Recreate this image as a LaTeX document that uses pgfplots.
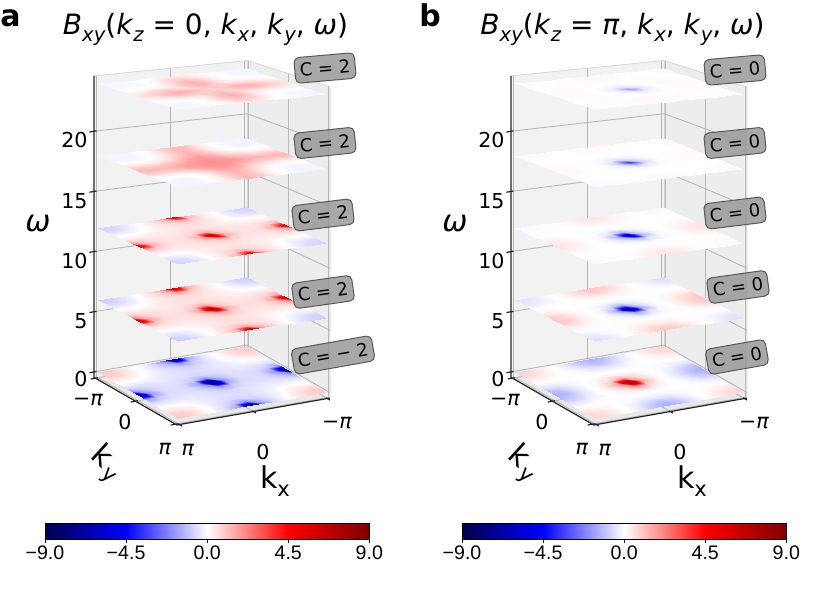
\documentclass[border=0pt]{standalone}
\usepackage{fontspec}
\setmainfont{DejaVu Sans}
\newfontfamily\lib{Liberation Sans}
\usepackage{pgfplots}
\usepackage{pgfplotstable}
\pgfplotsset{compat=1.18}
\pgfplotsset{colormap={seismic}{rgb=(0,0,0.3) rgb=(0,0,1) rgb=(1,1,1) rgb=(1,0,0) rgb=(0.5,0,0)}}

% ---------- panel a : k_z = 0 ----------
\pgfplotstableread[row sep=\\]{c\\
1.0\\0.9\\0.45\\-0.05\\-0.6\\-1.8\\-8\\-1.8\\-0.6\\-0.05\\0.45\\0.9\\1.0\\
0.9\\0.8\\0.38\\-0.08\\-0.5\\-1.0\\-1.8\\-1.0\\-0.5\\-0.08\\0.38\\0.8\\0.9\\
0.45\\0.38\\0.22\\-0.15\\-0.43\\-0.62\\-0.73\\-0.62\\-0.43\\-0.15\\0.22\\0.38\\0.45\\
-0.05\\-0.08\\-0.15\\-0.3\\-0.4\\-0.56\\-0.6\\-0.56\\-0.4\\-0.3\\-0.15\\-0.08\\-0.05\\
-0.6\\-0.5\\-0.43\\-0.4\\-0.5\\-0.62\\-0.73\\-0.62\\-0.5\\-0.4\\-0.43\\-0.5\\-0.6\\
-1.8\\-1.0\\-0.62\\-0.56\\-0.62\\-1.0\\-1.8\\-1.0\\-0.62\\-0.56\\-0.62\\-1.0\\-1.8\\
-8\\-1.8\\-0.73\\-0.6\\-0.73\\-1.8\\-9\\-1.8\\-0.73\\-0.6\\-0.73\\-1.8\\-8\\
-1.8\\-1.0\\-0.62\\-0.56\\-0.62\\-1.0\\-1.8\\-1.0\\-0.62\\-0.56\\-0.62\\-1.0\\-1.8\\
-0.6\\-0.5\\-0.43\\-0.4\\-0.5\\-0.62\\-0.73\\-0.62\\-0.5\\-0.4\\-0.43\\-0.5\\-0.6\\
-0.05\\-0.08\\-0.15\\-0.3\\-0.4\\-0.56\\-0.6\\-0.56\\-0.4\\-0.3\\-0.15\\-0.08\\-0.05\\
0.45\\0.38\\0.22\\-0.15\\-0.43\\-0.62\\-0.73\\-0.62\\-0.43\\-0.15\\0.22\\0.38\\0.45\\
0.9\\0.8\\0.38\\-0.08\\-0.5\\-1.0\\-1.8\\-1.0\\-0.5\\-0.08\\0.38\\0.8\\0.9\\
1.0\\0.9\\0.45\\-0.05\\-0.6\\-1.8\\-8\\-1.8\\-0.6\\-0.05\\0.45\\0.9\\1.0\\
}\Aa
\pgfplotstableread[row sep=\\]{c\\
-0.9\\-0.8\\-0.4\\0.05\\0.55\\1.6\\6.8\\1.6\\0.55\\0.05\\-0.4\\-0.8\\-0.9\\
-0.8\\-0.7\\-0.35\\0.07\\0.45\\0.9\\1.6\\0.9\\0.45\\0.07\\-0.35\\-0.7\\-0.8\\
-0.4\\-0.35\\-0.2\\0.13\\0.4\\0.55\\0.65\\0.55\\0.4\\0.13\\-0.2\\-0.35\\-0.4\\
0.05\\0.07\\0.13\\0.27\\0.36\\0.5\\0.55\\0.5\\0.36\\0.27\\0.13\\0.07\\0.05\\
0.55\\0.45\\0.4\\0.36\\0.45\\0.55\\0.65\\0.55\\0.45\\0.36\\0.4\\0.45\\0.55\\
1.6\\0.9\\0.55\\0.5\\0.55\\0.9\\1.6\\0.9\\0.55\\0.5\\0.55\\0.9\\1.6\\
6.8\\1.6\\0.65\\0.55\\0.65\\1.6\\7.6\\1.6\\0.65\\0.55\\0.65\\1.6\\6.8\\
1.6\\0.9\\0.55\\0.5\\0.55\\0.9\\1.6\\0.9\\0.55\\0.5\\0.55\\0.9\\1.6\\
0.55\\0.45\\0.4\\0.36\\0.45\\0.55\\0.65\\0.55\\0.45\\0.36\\0.4\\0.45\\0.55\\
0.05\\0.07\\0.13\\0.27\\0.36\\0.5\\0.55\\0.5\\0.36\\0.27\\0.13\\0.07\\0.05\\
-0.4\\-0.35\\-0.2\\0.13\\0.4\\0.55\\0.65\\0.55\\0.4\\0.13\\-0.2\\-0.35\\-0.4\\
-0.8\\-0.7\\-0.35\\0.07\\0.45\\0.9\\1.6\\0.9\\0.45\\0.07\\-0.35\\-0.7\\-0.8\\
-0.9\\-0.8\\-0.4\\0.05\\0.55\\1.6\\6.8\\1.6\\0.55\\0.05\\-0.4\\-0.8\\-0.9\\
}\Ab
\pgfplotstableread[row sep=\\]{c\\
-0.8\\-0.75\\-0.38\\0.05\\0.5\\1.5\\6.0\\1.5\\0.5\\0.05\\-0.38\\-0.75\\-0.8\\
-0.75\\-0.65\\-0.32\\0.07\\0.42\\0.85\\1.5\\0.85\\0.42\\0.07\\-0.32\\-0.65\\-0.75\\
-0.38\\-0.32\\-0.18\\0.13\\0.37\\0.52\\0.62\\0.52\\0.37\\0.13\\-0.18\\-0.32\\-0.38\\
0.05\\0.07\\0.13\\0.25\\0.34\\0.48\\0.52\\0.48\\0.34\\0.25\\0.13\\0.07\\0.05\\
0.5\\0.42\\0.37\\0.34\\0.42\\0.52\\0.62\\0.52\\0.42\\0.34\\0.37\\0.42\\0.5\\
1.5\\0.85\\0.52\\0.48\\0.52\\0.85\\1.5\\0.85\\0.52\\0.48\\0.52\\0.85\\1.5\\
6.0\\1.5\\0.62\\0.52\\0.62\\1.5\\6.8\\1.5\\0.62\\0.52\\0.62\\1.5\\6.0\\
1.5\\0.85\\0.52\\0.48\\0.52\\0.85\\1.5\\0.85\\0.52\\0.48\\0.52\\0.85\\1.5\\
0.5\\0.42\\0.37\\0.34\\0.42\\0.52\\0.62\\0.52\\0.42\\0.34\\0.37\\0.42\\0.5\\
0.05\\0.07\\0.13\\0.25\\0.34\\0.48\\0.52\\0.48\\0.34\\0.25\\0.13\\0.07\\0.05\\
-0.38\\-0.32\\-0.18\\0.13\\0.37\\0.52\\0.62\\0.52\\0.37\\0.13\\-0.18\\-0.32\\-0.38\\
-0.75\\-0.65\\-0.32\\0.07\\0.42\\0.85\\1.5\\0.85\\0.42\\0.07\\-0.32\\-0.65\\-0.75\\
-0.8\\-0.75\\-0.38\\0.05\\0.5\\1.5\\6.0\\1.5\\0.5\\0.05\\-0.38\\-0.75\\-0.8\\
}\Ac
\pgfplotstableread[row sep=\\]{c\\
-0.2\\-0.2\\-0.2\\-0.05\\0.3\\0.9\\1.3\\0.9\\0.3\\-0.05\\-0.2\\-0.2\\-0.2\\
-0.2\\-0.2\\-0.2\\-0.05\\0.3\\0.9\\1.3\\0.9\\0.3\\-0.05\\-0.2\\-0.2\\-0.2\\
-0.2\\-0.2\\-0.2\\-0.05\\0.3\\0.9\\1.3\\0.9\\0.3\\-0.05\\-0.2\\-0.2\\-0.2\\
-0.05\\-0.05\\-0.05\\0.1\\0.5\\1.1\\1.45\\1.1\\0.5\\0.1\\-0.05\\-0.05\\-0.05\\
0.3\\0.3\\0.3\\0.5\\0.85\\1.45\\1.8\\1.45\\0.85\\0.5\\0.3\\0.3\\0.3\\
0.9\\0.9\\0.9\\1.1\\1.45\\1.8\\1.9\\1.8\\1.45\\1.1\\0.9\\0.9\\0.9\\
1.3\\1.3\\1.3\\1.45\\1.8\\1.9\\2.0\\1.9\\1.8\\1.45\\1.3\\1.3\\1.3\\
0.9\\0.9\\0.9\\1.1\\1.45\\1.8\\1.9\\1.8\\1.45\\1.1\\0.9\\0.9\\0.9\\
0.3\\0.3\\0.3\\0.5\\0.85\\1.45\\1.8\\1.45\\0.85\\0.5\\0.3\\0.3\\0.3\\
-0.05\\-0.05\\-0.05\\0.1\\0.5\\1.1\\1.45\\1.1\\0.5\\0.1\\-0.05\\-0.05\\-0.05\\
-0.2\\-0.2\\-0.2\\-0.05\\0.3\\0.9\\1.3\\0.9\\0.3\\-0.05\\-0.2\\-0.2\\-0.2\\
-0.2\\-0.2\\-0.2\\-0.05\\0.3\\0.9\\1.3\\0.9\\0.3\\-0.05\\-0.2\\-0.2\\-0.2\\
-0.2\\-0.2\\-0.2\\-0.05\\0.3\\0.9\\1.3\\0.9\\0.3\\-0.05\\-0.2\\-0.2\\-0.2\\
}\Ad
\pgfplotstableread[row sep=\\]{c\\
-0.15\\-0.15\\-0.15\\-0.09\\0.06\\0.3\\0.45\\0.3\\0.06\\-0.09\\-0.15\\-0.15\\-0.15\\
-0.15\\-0.15\\-0.15\\-0.06\\0.17\\0.53\\0.75\\0.53\\0.17\\-0.06\\-0.15\\-0.15\\-0.15\\
-0.15\\-0.15\\-0.15\\-0.02\\0.3\\0.83\\1.15\\0.83\\0.3\\-0.02\\-0.15\\-0.15\\-0.15\\
-0.09\\-0.06\\-0.02\\0.01\\0.41\\1.05\\1.45\\1.05\\0.41\\0.01\\-0.02\\-0.06\\-0.09\\
0.06\\0.17\\0.3\\0.41\\0.38\\0.98\\1.35\\0.98\\0.38\\0.41\\0.3\\0.17\\0.06\\
0.3\\0.53\\0.83\\1.05\\0.98\\0.75\\1.05\\0.75\\0.98\\1.05\\0.83\\0.53\\0.3\\
0.45\\0.75\\1.15\\1.45\\1.35\\1.05\\0.75\\1.05\\1.35\\1.45\\1.15\\0.75\\0.45\\
0.3\\0.53\\0.83\\1.05\\0.98\\0.75\\1.05\\0.75\\0.98\\1.05\\0.83\\0.53\\0.3\\
0.06\\0.17\\0.3\\0.41\\0.38\\0.98\\1.35\\0.98\\0.38\\0.41\\0.3\\0.17\\0.06\\
-0.09\\-0.06\\-0.02\\0.01\\0.41\\1.05\\1.45\\1.05\\0.41\\0.01\\-0.02\\-0.06\\-0.09\\
-0.15\\-0.15\\-0.15\\-0.02\\0.3\\0.83\\1.15\\0.83\\0.3\\-0.02\\-0.15\\-0.15\\-0.15\\
-0.15\\-0.15\\-0.15\\-0.06\\0.17\\0.53\\0.75\\0.53\\0.17\\-0.06\\-0.15\\-0.15\\-0.15\\
-0.15\\-0.15\\-0.15\\-0.09\\0.06\\0.3\\0.45\\0.3\\0.06\\-0.09\\-0.15\\-0.15\\-0.15\\
}\Ae
% ---------- panel b : k_z = pi ----------
\pgfplotstableread[row sep=\\]{c\\
0.8\\0.7\\0.35\\-0.05\\-0.5\\-1.2\\-1.5\\-1.2\\-0.5\\-0.05\\0.35\\0.7\\0.8\\
0.7\\0.55\\0.25\\-0.05\\-0.4\\-0.9\\-1.2\\-0.9\\-0.4\\-0.05\\0.25\\0.55\\0.7\\
0.35\\0.25\\0.1\\0\\-0.15\\-0.4\\-0.5\\-0.4\\-0.15\\0\\0.1\\0.25\\0.35\\
-0.05\\-0.05\\0\\0\\-0.05\\-0.05\\-0.1\\-0.05\\-0.05\\0\\0\\-0.05\\-0.05\\
-0.5\\-0.4\\-0.15\\-0.05\\0.05\\0.2\\0.3\\0.2\\0.05\\-0.05\\-0.15\\-0.4\\-0.5\\
-1.2\\-0.9\\-0.4\\-0.05\\0.2\\0.7\\1.6\\0.7\\0.2\\-0.05\\-0.4\\-0.9\\-1.2\\
-1.5\\-1.2\\-0.5\\-0.1\\0.3\\1.6\\8.5\\1.6\\0.3\\-0.1\\-0.5\\-1.2\\-1.5\\
-1.2\\-0.9\\-0.4\\-0.05\\0.2\\0.7\\1.6\\0.7\\0.2\\-0.05\\-0.4\\-0.9\\-1.2\\
-0.5\\-0.4\\-0.15\\-0.05\\0.05\\0.2\\0.3\\0.2\\0.05\\-0.05\\-0.15\\-0.4\\-0.5\\
-0.05\\-0.05\\0\\0\\-0.05\\-0.05\\-0.1\\-0.05\\-0.05\\0\\0\\-0.05\\-0.05\\
0.35\\0.25\\0.1\\0\\-0.15\\-0.4\\-0.5\\-0.4\\-0.15\\0\\0.1\\0.25\\0.35\\
0.7\\0.55\\0.25\\-0.05\\-0.4\\-0.9\\-1.2\\-0.9\\-0.4\\-0.05\\0.25\\0.55\\0.7\\
0.8\\0.7\\0.35\\-0.05\\-0.5\\-1.2\\-1.5\\-1.2\\-0.5\\-0.05\\0.35\\0.7\\0.8\\
}\Ba
\pgfplotstableread[row sep=\\]{c\\
-0.55\\-0.5\\-0.25\\0.05\\0.35\\0.85\\1.05\\0.85\\0.35\\0.05\\-0.25\\-0.5\\-0.55\\
-0.5\\-0.4\\-0.18\\0.05\\0.28\\0.63\\0.85\\0.63\\0.28\\0.05\\-0.18\\-0.4\\-0.5\\
-0.25\\-0.18\\-0.07\\0\\0.1\\0.28\\0.35\\0.28\\0.1\\0\\-0.07\\-0.18\\-0.25\\
0.05\\0.05\\0\\0\\0.03\\0.03\\0.07\\0.03\\0.03\\0\\0\\0.05\\0.05\\
0.35\\0.28\\0.1\\0.03\\-0.05\\-0.15\\-0.25\\-0.15\\-0.05\\0.03\\0.1\\0.28\\0.35\\
0.85\\0.63\\0.28\\0.03\\-0.15\\-0.6\\-1.5\\-0.6\\-0.15\\0.03\\0.28\\0.63\\0.85\\
1.05\\0.85\\0.35\\0.07\\-0.25\\-1.5\\-7.5\\-1.5\\-0.25\\0.07\\0.35\\0.85\\1.05\\
0.85\\0.63\\0.28\\0.03\\-0.15\\-0.6\\-1.5\\-0.6\\-0.15\\0.03\\0.28\\0.63\\0.85\\
0.35\\0.28\\0.1\\0.03\\-0.05\\-0.15\\-0.25\\-0.15\\-0.05\\0.03\\0.1\\0.28\\0.35\\
0.05\\0.05\\0\\0\\0.03\\0.03\\0.07\\0.03\\0.03\\0\\0\\0.05\\0.05\\
-0.25\\-0.18\\-0.07\\0\\0.1\\0.28\\0.35\\0.28\\0.1\\0\\-0.07\\-0.18\\-0.25\\
-0.5\\-0.4\\-0.18\\0.05\\0.28\\0.63\\0.85\\0.63\\0.28\\0.05\\-0.18\\-0.4\\-0.5\\
-0.55\\-0.5\\-0.25\\0.05\\0.35\\0.85\\1.05\\0.85\\0.35\\0.05\\-0.25\\-0.5\\-0.55\\
}\Bb
\pgfplotstableread[row sep=\\]{c\\
-0.15\\-0.1\\-0.05\\0.03\\0.18\\0.4\\0.5\\0.4\\0.18\\0.03\\-0.05\\-0.1\\-0.15\\
-0.1\\-0.1\\-0.05\\0.03\\0.15\\0.32\\0.4\\0.32\\0.15\\0.03\\-0.05\\-0.1\\-0.1\\
-0.05\\-0.05\\0\\0\\0.05\\0.15\\0.18\\0.15\\0.05\\0\\0\\-0.05\\-0.05\\
0.03\\0.03\\0\\0\\0\\0\\0.03\\0\\0\\0\\0\\0.03\\0.03\\
0.18\\0.15\\0.05\\0\\-0.03\\-0.12\\-0.2\\-0.12\\-0.03\\0\\0.05\\0.15\\0.18\\
0.4\\0.32\\0.15\\0\\-0.12\\-0.5\\-1.3\\-0.5\\-0.12\\0\\0.15\\0.32\\0.4\\
0.5\\0.4\\0.18\\0.03\\-0.2\\-1.3\\-6.5\\-1.3\\-0.2\\0.03\\0.18\\0.4\\0.5\\
0.4\\0.32\\0.15\\0\\-0.12\\-0.5\\-1.3\\-0.5\\-0.12\\0\\0.15\\0.32\\0.4\\
0.18\\0.15\\0.05\\0\\-0.03\\-0.12\\-0.2\\-0.12\\-0.03\\0\\0.05\\0.15\\0.18\\
0.03\\0.03\\0\\0\\0\\0\\0.03\\0\\0\\0\\0\\0.03\\0.03\\
-0.05\\-0.05\\0\\0\\0.05\\0.15\\0.18\\0.15\\0.05\\0\\0\\-0.05\\-0.05\\
-0.1\\-0.1\\-0.05\\0.03\\0.15\\0.32\\0.4\\0.32\\0.15\\0.03\\-0.05\\-0.1\\-0.1\\
-0.15\\-0.1\\-0.05\\0.03\\0.18\\0.4\\0.5\\0.4\\0.18\\0.03\\-0.05\\-0.1\\-0.15\\
}\Bc
\pgfplotstableread[row sep=\\]{c\\
-0.1\\-0.1\\-0.05\\0\\0.05\\0.1\\0.15\\0.1\\0.05\\0\\-0.05\\-0.1\\-0.1\\
-0.1\\-0.1\\-0.05\\0\\0.05\\0.1\\0.1\\0.1\\0.05\\0\\-0.05\\-0.1\\-0.1\\
-0.05\\-0.05\\0\\0\\0\\0.05\\0.05\\0.05\\0\\0\\0\\-0.05\\-0.05\\
0\\0\\0\\0\\0\\0\\0\\0\\0\\0\\0\\0\\0\\
0.05\\0.05\\0\\0\\-0.03\\-0.08\\-0.12\\-0.08\\-0.03\\0\\0\\0.05\\0.05\\
0.1\\0.1\\0.05\\0\\-0.08\\-0.3\\-0.8\\-0.3\\-0.08\\0\\0.05\\0.1\\0.1\\
0.15\\0.1\\0.05\\0\\-0.12\\-0.8\\-3.5\\-0.8\\-0.12\\0\\0.05\\0.1\\0.15\\
0.1\\0.1\\0.05\\0\\-0.08\\-0.3\\-0.8\\-0.3\\-0.08\\0\\0.05\\0.1\\0.1\\
0.05\\0.05\\0\\0\\-0.03\\-0.08\\-0.12\\-0.08\\-0.03\\0\\0\\0.05\\0.05\\
0\\0\\0\\0\\0\\0\\0\\0\\0\\0\\0\\0\\0\\
-0.05\\-0.05\\0\\0\\0\\0.05\\0.05\\0.05\\0\\0\\0\\-0.05\\-0.05\\
-0.1\\-0.1\\-0.05\\0\\0.05\\0.1\\0.1\\0.1\\0.05\\0\\-0.05\\-0.1\\-0.1\\
-0.1\\-0.1\\-0.05\\0\\0.05\\0.1\\0.15\\0.1\\0.05\\0\\-0.05\\-0.1\\-0.1\\
}\Bd
\pgfplotstableread[row sep=\\]{c\\
-0.1\\-0.1\\-0.05\\0\\0.05\\0.1\\0.1\\0.1\\0.05\\0\\-0.05\\-0.1\\-0.1\\
-0.1\\-0.05\\0\\0.05\\0.05\\0.1\\0.1\\0.1\\0.05\\0.05\\0\\-0.05\\-0.1\\
-0.05\\0\\0.05\\0.05\\0.05\\0.1\\0.1\\0.1\\0.05\\0.05\\0.05\\0\\-0.05\\
0\\0.05\\0.05\\0.05\\0.05\\0.05\\0.05\\0.05\\0.05\\0.05\\0.05\\0.05\\0\\
0.05\\0.05\\0.05\\0.05\\0\\-0.05\\-0.08\\-0.05\\0\\0.05\\0.05\\0.05\\0.05\\
0.1\\0.1\\0.1\\0.05\\-0.05\\-0.2\\-0.45\\-0.2\\-0.05\\0.05\\0.1\\0.1\\0.1\\
0.1\\0.1\\0.1\\0.05\\-0.08\\-0.45\\-1.8\\-0.45\\-0.08\\0.05\\0.1\\0.1\\0.1\\
0.1\\0.1\\0.1\\0.05\\-0.05\\-0.2\\-0.45\\-0.2\\-0.05\\0.05\\0.1\\0.1\\0.1\\
0.05\\0.05\\0.05\\0.05\\0\\-0.05\\-0.08\\-0.05\\0\\0.05\\0.05\\0.05\\0.05\\
0\\0.05\\0.05\\0.05\\0.05\\0.05\\0.05\\0.05\\0.05\\0.05\\0.05\\0.05\\0\\
-0.05\\0\\0.05\\0.05\\0.05\\0.1\\0.1\\0.1\\0.05\\0.05\\0.05\\0\\-0.05\\
-0.1\\-0.05\\0\\0.05\\0.05\\0.1\\0.1\\0.1\\0.05\\0.05\\0\\-0.05\\-0.1\\
-0.1\\-0.1\\-0.05\\0\\0.05\\0.1\\0.1\\0.1\\0.05\\0\\-0.05\\-0.1\\-0.1\\
}\Be

% one horizontal slice: 13x13 grid over [-pi,pi]^2 at height #1 (with perspective tilt)
\newcommand{\kplane}[2]{%
\addplot3[surf, shader=interp, mesh/rows=13, mesh/cols=13, point meta=explicit]
 table[x index=0, y index=0, z index=0, meta index=0,
       x expr={-pi+pi/6*mod(\coordindex,13)},
       y expr={-pi+pi/6*floor((\coordindex+0.5)/13)},
       z expr={#1*(1+0.0186*(mod(\coordindex,13)/6-1)+0.0341*(floor((\coordindex+0.5)/13)/6-1))}] {#2};}

% panes, grid, axis lines and ticks of one 3D box
\newcommand{\boxdecor}{%
 \fill[black!9] (axis cs:3.25,-3.25,-0.45) -- (axis cs:3.25,3.25,-0.45) -- (axis cs:-3.25,3.25,-0.45) -- (axis cs:-3.25,-3.25,-0.45) -- cycle;
 \fill[black!5] (axis cs:3.25,-3.25,-0.45) -- (axis cs:-3.25,-3.25,-0.45) -- (axis cs:-3.25,-3.25,23.259) -- (axis cs:3.25,-3.25,24.205) -- cycle;
 \fill[black!7] (axis cs:-3.25,-3.25,-0.45) -- (axis cs:-3.25,3.25,-0.45) -- (axis cs:-3.25,3.25,24.995) -- (axis cs:-3.25,-3.25,23.259) -- cycle;
 \draw[black!16, line width=0.4pt] (axis cs:3.25,-3.25,24.205) -- (axis cs:-3.25,-3.25,23.259) -- (axis cs:-3.25,3.25,24.995) -- (axis cs:-3.25,3.25,-0.45);
 \draw[black!16, line width=0.4pt] (axis cs:-3.25,-3.25,-0.45) -- (axis cs:-3.25,-3.25,23.259);
 \begin{scope}[black!28, line width=0.45pt]
  \draw (axis cs:3.25,-3.25,0) -- (axis cs:-3.25,-3.25,0) -- (axis cs:-3.25,3.25,0);
  \draw (axis cs:3.25,-3.25,4.920) -- (axis cs:-3.25,-3.25,4.727) -- (axis cs:-3.25,3.25,5.080);
  \draw (axis cs:3.25,-3.25,9.840) -- (axis cs:-3.25,-3.25,9.455) -- (axis cs:-3.25,3.25,10.160);
  \draw (axis cs:3.25,-3.25,14.759) -- (axis cs:-3.25,-3.25,14.182) -- (axis cs:-3.25,3.25,15.241);
  \draw (axis cs:3.25,-3.25,19.679) -- (axis cs:-3.25,-3.25,18.910) -- (axis cs:-3.25,3.25,20.321);
  \draw (axis cs:3.1416,-3.25,-0.45) -- (axis cs:3.1416,-3.25,24.190);
  \draw (axis cs:0,-3.25,-0.45) -- (axis cs:0,-3.25,23.732);
  \draw (axis cs:-3.1416,-3.25,-0.45) -- (axis cs:-3.1416,-3.25,23.275);
  \draw (axis cs:-3.25,-3.1416,-0.45) -- (axis cs:-3.25,-3.1416,23.288);
  \draw (axis cs:-3.25,0,-0.45) -- (axis cs:-3.25,0,24.127);
  \draw (axis cs:-3.25,3.1416,-0.45) -- (axis cs:-3.25,3.1416,24.966);
  \draw (axis cs:3.1416,-3.25,-0.45) -- (axis cs:3.1416,3.25,-0.45);
  \draw (axis cs:0,-3.25,-0.45) -- (axis cs:0,3.25,-0.45);
  \draw (axis cs:-3.1416,-3.25,-0.45) -- (axis cs:-3.1416,3.25,-0.45);
  \draw (axis cs:-3.25,-3.1416,-0.45) -- (axis cs:3.25,-3.1416,-0.45);
  \draw (axis cs:-3.25,0,-0.45) -- (axis cs:3.25,0,-0.45);
  \draw (axis cs:-3.25,3.1416,-0.45) -- (axis cs:3.25,3.1416,-0.45);
 \end{scope}
 \begin{scope}[black!85, line width=0.6pt]
  \draw (axis cs:3.25,-3.25,24.205) -- (axis cs:3.25,-3.25,-0.45) -- (axis cs:3.25,3.25,-0.45) -- (axis cs:-3.25,3.25,-0.45);
  \draw (axis cs:3.15,-3.25,0) -- (axis cs:3.45,-3.25,0);
  \draw (axis cs:3.15,-3.25,4.920) -- (axis cs:3.45,-3.25,4.920);
  \draw (axis cs:3.15,-3.25,9.840) -- (axis cs:3.45,-3.25,9.840);
  \draw (axis cs:3.15,-3.25,14.759) -- (axis cs:3.45,-3.25,14.759);
  \draw (axis cs:3.15,-3.25,19.679) -- (axis cs:3.45,-3.25,19.679);
  \draw (axis cs:3.15,-3.1416,-0.45) -- (axis cs:3.45,-3.1416,-0.45);
  \draw (axis cs:3.15,0,-0.45) -- (axis cs:3.45,0,-0.45);
  \draw (axis cs:3.15,3.1416,-0.45) -- (axis cs:3.45,3.1416,-0.45);
  \draw (axis cs:3.1416,3.15,-0.45) -- (axis cs:3.1416,3.45,-0.45);
  \draw (axis cs:0,3.15,-0.45) -- (axis cs:0,3.45,-0.45);
  \draw (axis cs:-3.1416,3.15,-0.45) -- (axis cs:-3.1416,3.45,-0.45);
 \end{scope}}

\pgfplotsset{panel/.style={hide axis, clip=false,
  x={(-11.775pt,-2.07pt)}, y={(6.365pt,-3.66pt)}, z={(0pt,6.115pt)},
  xmin=-3.25, xmax=3.25, ymin=-3.25, ymax=3.25, zmin=-0.45, zmax=24.6,
  colormap name=seismic, point meta min=-9, point meta max=9},
 cbar/.style={anchor=south west, scale only axis, width=162.15pt, height=8pt,
  xmin=-9, xmax=9, ymin=0, ymax=1, zmin=-1, zmax=1, view={0}{90}, enlargelimits=false,
  ytick=\empty, ztick=\empty, xtick={-9,-4.5,0,4.5,9},
  xticklabels={−9.0,−4.5,0.0,4.5,9.0},
  xtick align=outside, xtick pos=left, major tick length=2pt,
  tick style={black, line width=0.4pt}, axis line style={line width=0.45pt},
  xticklabel style={font=\lib\fontsize{9.8}{11}\selectfont, inner sep=1pt},
  colormap name=seismic, point meta min=-9, point meta max=9, axis on top}}

\newcommand{\sub}[1]{\raisebox{-0.22em}{\fontsize{9.8}{10}\selectfont\itshape #1}}
\newcommand{\ttl}[1]{\fontsize{14}{16}\selectfont\textit{B}\sub{xy}(\textit{k}\sub{z} = #1, \textit{k}\sub{x}, \textit{k}\sub{y}, \textit{ω})}
\newcommand{\tk}{\fontsize{10.3}{12}\selectfont}
\newcommand{\lab}{\fontsize{15}{18}\selectfont}
\tikzset{cl/.style={draw=black!65, fill=black!40, fill opacity=0.85, text opacity=1,
  rounded corners=2.5pt, inner xsep=2.5pt, inner ysep=3pt, line width=0.5pt,
  font=\fontsize{9}{10}\selectfont}}

\begin{document}
\begin{tikzpicture}
\begin{axis}[panel]
\boxdecor
\kplane{0}{\Aa}
\kplane{6}{\Ab}
\kplane{12}{\Ac}
\kplane{18}{\Ad}
\kplane{24}{\Ae}
\coordinate (Oa) at (axis cs:0,0,0);
\end{axis}
\begin{axis}[panel, at={(208.5pt,0pt)}]
\boxdecor
\kplane{0}{\Ba}
\kplane{6}{\Bb}
\kplane{12}{\Bc}
\kplane{18}{\Bd}
\kplane{24}{\Be}
\end{axis}
\begin{scope}[shift={(Oa)}, x=0.5pt, y=-0.5pt, shift={(-212,-382.25)}]
 \path (0,0) rectangle (830,604);
 \coordinate (cbA) at (45,539.3);
 \coordinate (cbB) at (462,539.3);
 \node[anchor=base west, inner sep=0] at (0,27) {\fontsize{15}{18}\selectfont\bfseries a};
 \node[anchor=base west, inner sep=0] at (419,27) {\fontsize{15}{18}\selectfont\bfseries b};
 \node[anchor=base, inner sep=0] at (205.5,35) {\ttl{0}};
 \node[anchor=base, inner sep=0] at (622.5,35) {\ttl{\textit{π}}};
 \foreach \dx in {0,417}{
  \node[anchor=east, inner sep=0, font=\tk] at ({\dx+88},379.5) {0};
  \node[anchor=east, inner sep=0, font=\tk] at ({\dx+88},321) {5};
  \node[anchor=east, inner sep=0, font=\tk] at ({\dx+88},261) {10};
  \node[anchor=east, inner sep=0, font=\tk] at ({\dx+88},201) {15};
  \node[anchor=east, inner sep=0, font=\tk] at ({\dx+88},140) {20};
  \node[inner sep=0, font=\tk] at ({\dx+88},400) {−\textit{π}};
  \node[inner sep=0, font=\tk] at ({\dx+125},422) {0};
  \node[inner sep=0, font=\tk] at ({\dx+165},449) {\textit{π}};
  \node[inner sep=0, font=\tk] at ({\dx+188},450) {\textit{π}};
  \node[inner sep=0, font=\tk] at ({\dx+263},452) {0};
  \node[inner sep=0, font=\tk] at ({\dx+337},423) {−\textit{π}};
  \node[inner sep=0] at ({\dx+38},224) {\lab\itshape ω};
  \node[inner sep=0] at ({\dx+275},481) {\lab k\raisebox{-0.25em}{\fontsize{10.5}{12}\selectfont x}};
  \node[inner sep=0, rotate=-42] at ({\dx+106},464) {\lab k\kern0.1em\raisebox{-0.18em}{\fontsize{10.5}{12}\selectfont y}};
 }
 \node[cl, rotate=5] at (325,68) {C = 2};
 \node[cl, rotate=6] at (325,143) {C = 2};
 \node[cl, rotate=7] at (323,215) {C = 2};
 \node[cl, rotate=8] at (323,292) {C = 2};
 \node[cl, rotate=10] at (333,355) {C = − 2};
 \node[cl, rotate=5] at (735,70) {C = 0};
 \node[cl, rotate=6] at (735,143) {C = 0};
 \node[cl, rotate=7] at (735,213) {C = 0};
 \node[cl, rotate=8] at (738,287) {C = 0};
 \node[cl, rotate=10] at (737,357) {C = 0};
\end{scope}
\begin{axis}[cbar, at={(cbA)}]
\addplot3[surf, shader=interp, mesh/rows=2, mesh/cols=5, point meta=x] coordinates {(-9,0,0) (-4.5,0,0) (0,0,0) (4.5,0,0) (9,0,0) (-9,1,0) (-4.5,1,0) (0,1,0) (4.5,1,0) (9,1,0)};
\end{axis}
\begin{axis}[cbar, at={(cbB)}]
\addplot3[surf, shader=interp, mesh/rows=2, mesh/cols=5, point meta=x] coordinates {(-9,0,0) (-4.5,0,0) (0,0,0) (4.5,0,0) (9,0,0) (-9,1,0) (-4.5,1,0) (0,1,0) (4.5,1,0) (9,1,0)};
\end{axis}
\end{tikzpicture}
\end{document}
